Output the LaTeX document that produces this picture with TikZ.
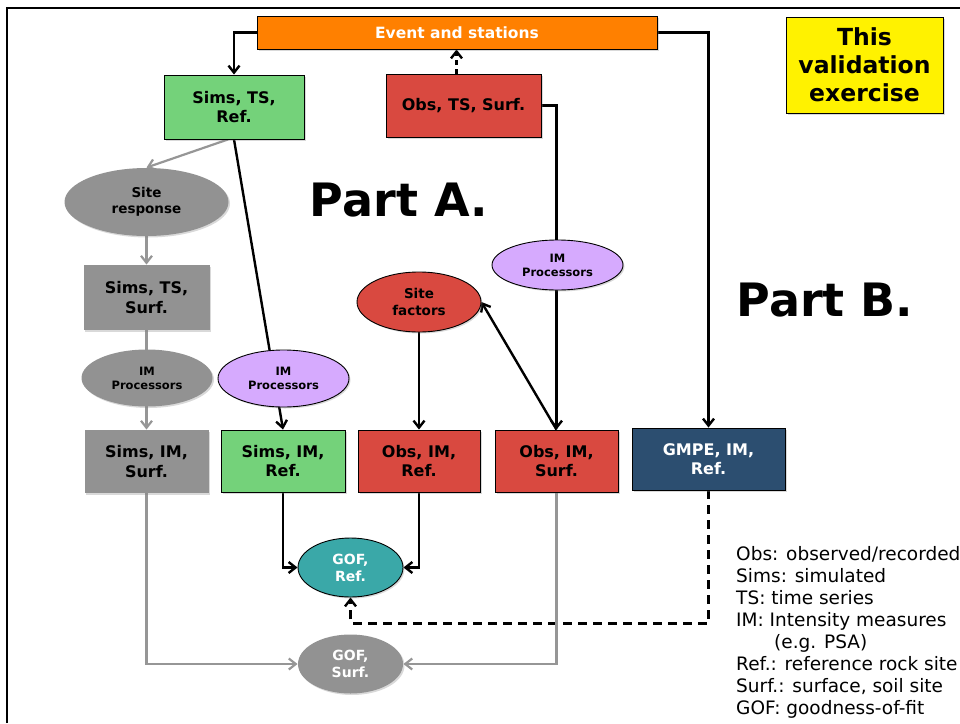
\documentclass[tikz,border=0pt]{standalone}
\usepackage{fontspec}
\setmainfont{DejaVu Sans}
\usetikzlibrary{shapes.geometric,arrows.meta,shadows,backgrounds}

\definecolor{evorange}{RGB}{255,128,0}
\definecolor{simgreen}{RGB}{116,210,122}
\definecolor{obsred}{RGB}{217,73,64}
\definecolor{surfgray}{RGB}{146,146,146}
\definecolor{improc}{RGB}{214,170,254}
\definecolor{gofteal}{RGB}{58,168,168}
\definecolor{gmpeblue}{RGB}{44,78,112}
\definecolor{linegray}{RGB}{150,150,150}

\tikzset{
  softshadow/.style={drop shadow={shadow xshift=1.5pt,shadow yshift=-1.5pt,opacity=0.3}},
  box/.style={rectangle,draw=black,line width=0.9pt,inner sep=0pt,align=center,
    font=\fontsize{16}{19.5}\selectfont\bfseries,softshadow},
  graybox/.style={box,draw=none,fill=surfgray},
  oval/.style={ellipse,draw=black,line width=0.9pt,inner sep=0pt,align=center,softshadow},
  grayoval/.style={oval,draw=none,fill=surfgray},
  flow/.style={line width=2.4pt,-{Straight Barb[length=7pt,width=11pt]}},
  grayflow/.style={flow,draw=linegray,line width=2.2pt},
  dashflow/.style={flow,dash pattern=on 9pt off 6pt},
}

\begin{document}
\begin{tikzpicture}[x=1pt,y=-1pt]
\useasboundingbox (0,0) rectangle (960,723);

%Shape: Frame
\draw[line width=2pt] (7,723) -- (7,8) -- (960,8);

%Shape: Rectangle
\node[box,fill=evorange,text=white,minimum width=400pt,minimum height=33pt,
  font=\fontsize{15.5}{18}\selectfont\bfseries] (event) at (457,32.5) {Event and stations};
%Shape: Rectangle
\node[box,fill=yellow,minimum width=157pt,minimum height=96pt,
  font=\fontsize{23.5}{28}\selectfont\bfseries] (valid) at (864.5,65) {This\\validation\\exercise};
%Shape: Rectangle
\node[box,fill=simgreen,minimum width=140pt,minimum height=64pt] (simsTSref) at (234,107) {Sims, TS,\\Ref.};
%Shape: Rectangle
\node[box,fill=obsred,minimum width=155pt,minimum height=63pt] (obsTSsurf) at (463.5,105.5) {Obs, TS, Surf.};

%Shape: Ellipse
\node[grayoval,minimum width=164pt,minimum height=68pt,
  font=\fontsize{13.5}{16.5}\selectfont\bfseries] (siteresp) at (146.5,202) {Site\\response};
%Shape: Rectangle
\node[graybox,minimum width=126pt,minimum height=65pt] (simsTSsurf) at (146.5,297.5) {Sims, TS,\\Surf.};
%Shape: Ellipse
\node[grayoval,minimum width=131pt,minimum height=57pt,
  font=\fontsize{11.5}{14}\selectfont\bfseries] (improcG) at (147,378) {IM\\Processors};
%Shape: Ellipse
\node[oval,fill=improc,minimum width=131pt,minimum height=57pt,
  font=\fontsize{11.5}{14}\selectfont\bfseries] (improcL) at (283.5,378.5) {IM\\Processors};
%Shape: Ellipse
\node[oval,fill=improc,minimum width=131pt,minimum height=50pt,
  font=\fontsize{11.5}{14}\selectfont\bfseries] (improcR) at (557.5,265) {IM\\Processors};
%Shape: Ellipse
\node[oval,fill=obsred,minimum width=124pt,minimum height=60pt,
  font=\fontsize{13.5}{16.5}\selectfont\bfseries] (sitefac) at (419,302) {Site\\factors};

%Shape: Rectangle
\node[graybox,minimum width=124pt,minimum height=63pt] (simsIMsurf) at (146.5,461.5) {Sims, IM,\\Surf.};
%Shape: Rectangle
\node[box,fill=simgreen,minimum width=124pt,minimum height=62pt] (simsIMref) at (283,461) {Sims, IM,\\Ref.};
%Shape: Rectangle
\node[box,fill=obsred,minimum width=122pt,minimum height=62pt] (obsIMref) at (419,461) {Obs, IM,\\Ref.};
%Shape: Rectangle
\node[box,fill=obsred,minimum width=123pt,minimum height=62pt] (obsIMsurf) at (556.5,461) {Obs, IM,\\Surf.};
%Shape: Rectangle
\node[box,fill=gmpeblue,text=white,minimum width=153pt,minimum height=62pt] (gmpe) at (708.5,459) {GMPE, IM,\\Ref.};

%Shape: Ellipse
\node[oval,fill=gofteal,text=white,minimum width=105pt,minimum height=59pt,
  font=\fontsize{14}{17}\selectfont\bfseries] (gofref) at (350.5,567.5) {GOF,\\Ref.};
%Shape: Ellipse
\node[grayoval,text=white,minimum width=105pt,minimum height=59pt,
  font=\fontsize{14}{17}\selectfont\bfseries] (gofsurf) at (350.5,664) {GOF,\\Surf.};

% Text Node
\node[font=\fontsize{46}{50}\selectfont\bfseries] (partA) at (399,200.5) {Part A.};
% Text Node
\node[font=\fontsize{46}{50}\selectfont\bfseries] (partB) at (825,300) {Part B.};
% Text Node
\node[anchor=north west,inner sep=0pt,align=left,font=\fontsize{18.5}{22}\selectfont] (legend) at (736,546)
  {Obs: observed/recorded\\Sims: simulated\\TS: time series\\IM: Intensity measures\\
   \hspace*{38pt}(e.g. PSA)\\Ref.: reference rock site\\Surf.: surface, soil site\\GOF: goodness-of-fit};

\begin{scope}[on background layer]
%Straight Lines
\draw[flow] (event.west) -| (simsTSref.north);
\draw[dashflow,dash pattern=on 5pt off 4pt] ([xshift=-7pt]obsTSsurf.north) -- ([xshift=-7pt]obsTSsurf.north |- event.south);
\draw[flow] (event.east) -| (gmpe.north);
\draw[flow] (obsTSsurf.east) -| (obsIMsurf.north);
\draw[grayflow] ([xshift=-6pt]simsTSref.south) -- (siteresp.north);
\draw[flow] (simsTSref.south) -- (simsIMref.north);
\draw[grayflow] (siteresp.south) -- (simsTSsurf.north);
\draw[grayflow] (simsTSsurf.south) -- (simsIMsurf.north);
\draw[flow] (sitefac.south) -- (obsIMref.north);
\draw[flow] (obsIMsurf.north) -- (sitefac.east);
\draw[flow] (simsIMref.south) |- (gofref.west);
\draw[flow] (obsIMref.south) |- (gofref.east);
\draw[dashflow] (gmpe.south) -- ++(0,133) -| (gofref.south);
\draw[grayflow] (simsIMsurf.south) |- (gofsurf.west);
\draw[grayflow] (obsIMsurf.south) |- (gofsurf.east);
\end{scope}
\end{tikzpicture}
\end{document}
